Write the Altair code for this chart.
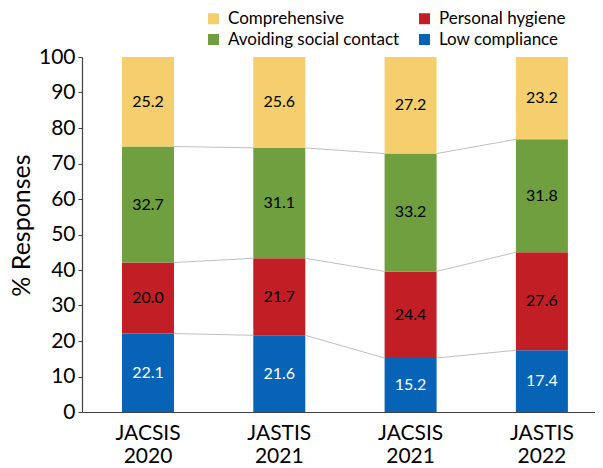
import altair as alt
import pandas as pd

cats = ["JACSIS 2020", "JASTIS 2021", "JACSIS 2021", "JASTIS 2022"]
series = ["Low compliance", "Personal hygiene", "Avoiding social contact", "Comprehensive"]
low = [22.1, 21.6, 15.2, 17.4]
hygiene = [20.0, 21.7, 24.4, 27.6]
avoid = [32.7, 31.1, 33.2, 31.8]
comp = [25.2, 25.6, 27.2, 23.2]
legend_order = ["Comprehensive", "Avoiding social contact", "Personal hygiene", "Low compliance"]
colors = {"Comprehensive": "#F5CF6D", "Personal hygiene": "#C11E25",
          "Avoiding social contact": "#6F9F3F", "Low compliance": "#0663B5"}
text_colors = {"Low compliance": "white"}

vals = [low, hygiene, avoid, comp]
rows = []
for ci, c in enumerate(cats):
    cum = 0.0
    for si, s in enumerate(series):
        v = vals[si][ci]
        rows.append({"cat": c, "series": s, "value": v, "rank": si,
                     "start": cum, "end": cum + v, "mid": cum + v / 2,
                     "tcolor": text_colors.get(s, "black")})
        cum += v
df = pd.DataFrame(rows)

lines = []
for ci in range(len(cats) - 1):
    for si in range(len(series) - 1):
        a = df[(df.cat == cats[ci]) & (df.series == series[si])].end.iloc[0]
        b = df[(df.cat == cats[ci + 1]) & (df.series == series[si])].end.iloc[0]
        lines.append({"from": cats[ci], "to": cats[ci + 1], "y1": a, "y2": b})
ldf = pd.DataFrame(lines)

xscale = alt.Scale(domain=cats, paddingInner=0.604, paddingOuter=0.2555, align=0.596)
yscale = alt.Scale(domain=[0, 100], nice=False)

x_axis = alt.Axis(title=None, labelAngle=0, ticks=False, labelFontSize=21,
                  labelExpr="split(datum.label, ' ')", labelLineHeight=23,
                  labelPadding=10, labelColor="black", domainColor="#404040",
                  domainWidth=1.2, bandPosition=0.5, labelBaseline="top")
y_axis = alt.Axis(title="% Responses", tickCount=10, grid=False,
                  tickSize=4, labelFontSize=21, labelColor="black", labelPadding=3,
                  labelOverlap=False, labelFlush=False, labelSeparation=0,
                  tickColor="#404040", domainColor="#404040", domainWidth=1.2,
                  titleFontSize=25, titleFontWeight="normal", titleColor="black",
                  titleBaseline="alphabetic", titleX=-53, titleY=168)

bars = alt.Chart(df).mark_bar().encode(
    x=alt.X("cat:N", scale=xscale, sort=cats, axis=x_axis),
    y=alt.Y("start:Q", scale=yscale, axis=y_axis),
    y2="end:Q",
    color=alt.Color("series:N",
                    scale=alt.Scale(domain=legend_order,
                                    range=[colors[s] for s in legend_order]),
                    legend=alt.Legend(title=None, orient="none", legendX=123, legendY=-47,
                                      columns=2, symbolType="square", symbolSize=121,
                                      symbolStrokeWidth=0, labelFontSize=17,
                                      labelColor="black", labelOffset=6, labelLimit=400,
                                      columnPadding=16, rowPadding=3)),
    order=alt.Order("rank:Q"),
)

labels = alt.Chart(df).mark_text(fontSize=16).encode(
    x=alt.X("cat:N", scale=xscale, sort=cats, axis=x_axis),
    y=alt.Y("mid:Q", scale=yscale, axis=y_axis),
    text=alt.Text("value:Q", format=".1f"),
    color=alt.Color("tcolor:N", scale=None),
)

rules = alt.Chart(ldf).mark_rule(color="#BFBFBF", strokeWidth=1).encode(
    x=alt.X("from:N", scale=xscale, bandPosition=1, axis=x_axis),
    x2=alt.X2("to:N", bandPosition=0),
    y=alt.Y("y1:Q", scale=yscale, axis=y_axis),
    y2="y2:Q",
)

chart = alt.layer(bars, rules, labels).properties(
    width=513, height=355,
    padding={"left": 74, "top": 49, "right": 0, "bottom": 56},
    autosize="none",
).configure(font="Lato").configure_view(stroke=None)

chart.save("out.html", embed_options={"renderer": "svg", "actions": False})
